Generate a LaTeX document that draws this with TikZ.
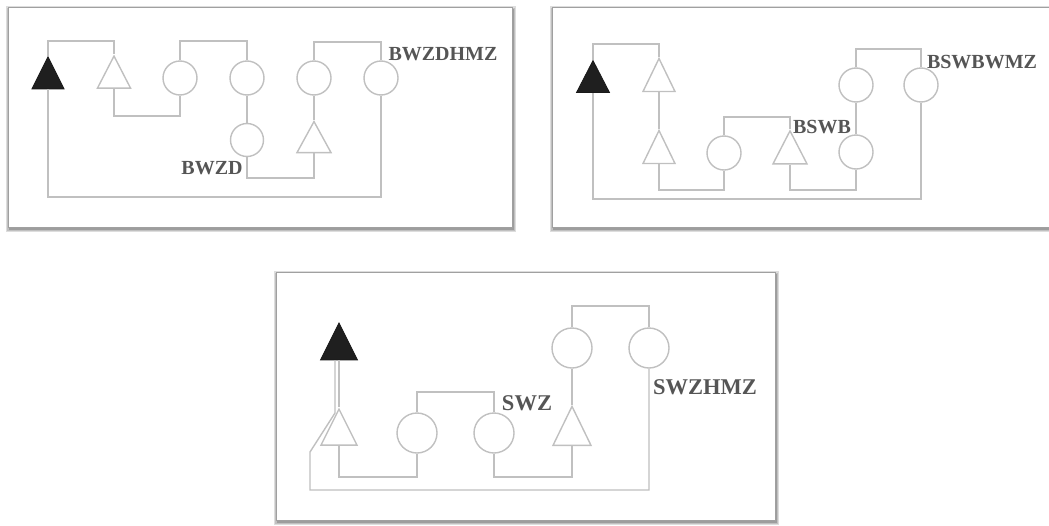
\documentclass[tikz,border=0pt]{standalone}
\usepackage{fontspec}
\setmainfont{Liberation Serif}
\usetikzlibrary{shapes.geometric}

\definecolor{wire}{HTML}{C0C0C0}
\definecolor{labelgray}{HTML}{555555}
\definecolor{framegray}{HTML}{A0A0A0}
\definecolor{shadowgray}{HTML}{8C8C8C}

\tikzset{
  wirepath/.style={draw=wire, line width=1.4pt},
  relay/.style={circle, draw=wire, line width=1.4pt, fill=white, inner sep=0pt, minimum size=#1},
  amp/.style={isosceles triangle, shape border rotate=90, isosceles triangle stretches,
    draw=wire, line width=1.4pt, fill=white, inner sep=0pt, minimum width=#1, minimum height=32pt},
  source/.style={isosceles triangle, shape border rotate=90, isosceles triangle stretches,
    draw=black!90, line width=0.8pt, fill=black!88, inner sep=0pt, minimum width=#1, minimum height=32pt},
  tag/.style={text=labelgray, font=\bfseries\fontsize{20}{24}\selectfont, inner sep=0pt},
  bigtag/.style={text=labelgray, font=\bfseries\fontsize{22.5}{26}\selectfont, inner sep=0pt},
}

% framed panel with a soft drop shadow
\newcommand{\panelframe}[4]{%
  \fill[shadowgray!30] (#1-2,#2-1) rectangle (#3+4,#4+5);
  \fill[shadowgray!55] (#1-1,#2+1) rectangle (#3+3,#4+4);
  \fill[shadowgray!85] (#1+1,#2+2) rectangle (#3+2,#4+3);
  \filldraw[fill=white, draw=framegray, line width=0.9pt] (#1,#2) rectangle (#3,#4);
}

\begin{document}
\begin{tikzpicture}[x=1pt, y=-1pt]
\useasboundingbox (0,0) rectangle (1049,525);
\fill[white] (0,0) rectangle (1049,525);

% ---------------- panel 1 ----------------
\panelframe{8}{7}{512}{227}
\node[source=32pt] (p1t0) at (48,79) {};
\node[amp=33pt]    (p1t1) at (114,78) {};
\node[relay=34pt]  (p1c1) at (180,78) {};
\node[relay=34pt]  (p1c2) at (247,78) {};
\node[relay=33pt]  (p1c3) at (247,140) {};
\node[amp=34pt, minimum height=31pt] (p1t2) at (314,142.5) {};
\node[relay=34pt]  (p1c4) at (314,78) {};
\node[relay=34pt]  (p1c5) at (381,78) {};

\draw[wirepath] (p1t0.apex) -- (p1t0.apex |- 0,41) -| (p1t1.apex);
\draw[wirepath] (p1t1.lower side) -- (p1t1.lower side |- 0,116) -| (p1c1.south);
\draw[wirepath] (p1c1.north) -- (p1c1.north |- 0,41) -| (p1c2.north);
\draw[wirepath] (p1c2.south) -- (p1c3.north);
\draw[wirepath] (p1c3.south) -- (p1c3.south |- 0,178) -| (p1t2.lower side);
\draw[wirepath] (p1t2.apex) -- (p1c4.south);
\draw[wirepath] (p1c4.north) -- (p1c4.north |- 0,42) -| (p1c5.north);
\draw[wirepath] (p1c5.south) -- (p1c5.south |- 0,197) -| (p1t0.lower side);

\node[tag] (p1l1) at (443,54) {BWZDHMZ};
\node[tag] (p1l2) at (212,168) {BWZD};

% ---------------- panel 2 ----------------
\panelframe{552}{7}{1058}{227}
\node[source=33pt] (p2t0) at (593,82.5) {};
\node[amp=32pt, minimum height=33pt] (p2t1) at (659,81.5) {};
\node[amp=32pt, minimum height=33pt] (p2t2) at (659,153.5) {};
\node[relay=34pt]  (p2ca) at (724,153) {};
\node[amp=34pt, minimum height=33pt] (p2t3) at (790,153.5) {};
\node[relay=34pt]  (p2cb) at (856,152) {};
\node[relay=34pt]  (p2cc) at (856,85) {};
\node[relay=34pt]  (p2cd) at (921,85) {};

\draw[wirepath] (p2t0.apex) -- (p2t0.apex |- 0,44) -| (p2t1.apex);
\draw[wirepath] (p2t1.lower side) -- (p2t2.apex);
\draw[wirepath] (p2t2.lower side) -- (p2t2.lower side |- 0,190) -| (p2ca.south);
\draw[wirepath] (p2ca.north) -- (p2ca.north |- 0,117) -| (p2t3.apex);
\draw[wirepath] (p2t3.lower side) -- (p2t3.lower side |- 0,190) -| (p2cb.south);
\draw[wirepath] (p2cb.north) -- (p2cc.south);
\draw[wirepath] (p2cc.north) -- (p2cc.north |- 0,49) -| (p2cd.north);
\draw[wirepath] (p2cd.south) -- (p2cd.south |- 0,199) -| (p2t0.lower side);

\node[tag] (p2l1) at (982,62) {BSWBWMZ};
\node[tag] (p2l2) at (822,127) {BSWB};

% ---------------- panel 3 ----------------
\panelframe{276}{272}{775}{520}
\node[source=37pt, minimum height=37pt] (p3t0) at (339,348.5) {};
\node[amp=36pt, minimum height=36pt] (p3t1) at (339,434) {};
\node[relay=40pt]  (p3ca) at (417,433) {};
\node[relay=40pt]  (p3cb) at (494,433) {};
\node[amp=38pt, minimum height=39pt] (p3t2) at (572,433.5) {};
\node[relay=40pt]  (p3cc) at (572,348) {};
\node[relay=40pt]  (p3cd) at (649,348) {};
\coordinate (p3k1) at ([xshift=-4pt]p3t0.lower side |- 0,413);
\coordinate (p3k2) at (310,452);

\draw[wirepath] (p3t0.lower side) -- (p3t1.apex);
\draw[wirepath] ([xshift=-4pt]p3t0.lower side) -- (p3k1) -- (p3k2)
  -- (p3k2 |- 0,490) -| (p3cd.south);
\draw[wirepath] (p3t1.lower side) -- (p3t1.lower side |- 0,477) -| (p3ca.south);
\draw[wirepath] (p3ca.north) -- (p3ca.north |- 0,392) -| (p3cb.north);
\draw[wirepath] (p3cb.south) -- (p3cb.south |- 0,477) -| (p3t2.lower side);
\draw[wirepath] (p3t2.apex) -- (p3cc.south);
\draw[wirepath] (p3cc.north) -- (p3cc.north |- 0,306) -| (p3cd.north);

\node[bigtag] (p3l1) at (527,403) {SWZ};
\node[bigtag] (p3l2) at (705,387) {SWZHMZ};
\end{tikzpicture}
\end{document}
